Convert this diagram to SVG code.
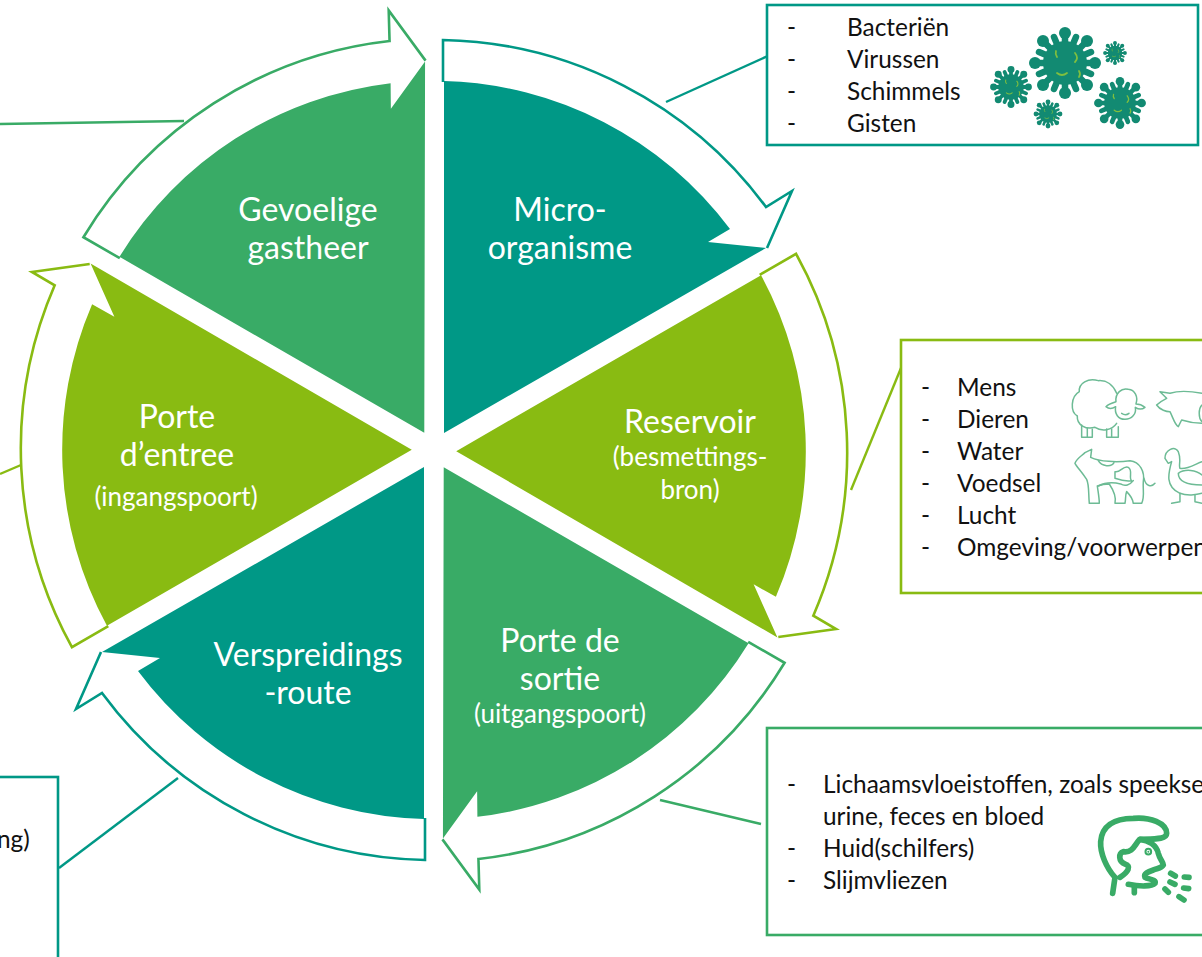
<svg xmlns="http://www.w3.org/2000/svg" width="1202" height="957" viewBox="0 0 1202 957">
<style>
text{font-family:Lato,"Open Sans","Liberation Sans",sans-serif}
.t{fill:#fff;font-size:32px;text-anchor:middle}
.s{fill:#fff;font-size:26px;text-anchor:middle}
.b{fill:#111;font-size:24.4px}
.out{fill:none;stroke-width:2.6;stroke-linejoin:miter}
.outT{stroke:#009886}.outG{stroke:#39ab66}.outL{stroke:#89bb12}
.fT{fill:#009886}.fG{fill:#39ab66}.fL{fill:#89bb12}
.box{fill:#fff;stroke-width:2.6}
.con{fill:none;stroke-width:2.4}
.ani{fill:none;stroke:#6dbb95;stroke-width:4.5;stroke-linejoin:round;stroke-linecap:round}
.head{fill:none;stroke:#39ab66;stroke-width:17;stroke-linejoin:round;stroke-linecap:round}
</style>
<defs>
<path id="outline" d="M443,82 L443,40 A411,411 0 0 1 766,207 L792,191 L767,248"/>
<path id="outline2" d="M443,82 L443,40 A411,411 0 0 1 765,206 L788,193 L766,247"/>
<path id="wedge" d="M444,433 L444,81 A369,369 0 0 1 730,229 L708,242 L766,248 Z"/>
<g id="virus">
<g stroke="#128a72" stroke-width="6.5" stroke-linecap="round">
<path d="M0,0L0,-30M0,0L0,30M0,0L30,0M0,0L-30,0M0,0L22,-22M0,0L-22,22M0,0L22,22M0,0L-22,-22M0,0L11,-26M0,0L-11,26M0,0L26,11M0,0L-26,-11M0,0L-11,-26M0,0L11,26M0,0L26,-11M0,0L-26,11"/>
</g>
<g fill="#128a72">
<circle r="22"/><circle cy="-30" r="6"/><circle cy="30" r="6"/><circle cx="30" r="6"/><circle cx="-30" r="6"/><circle cx="22" cy="-22" r="6"/><circle cx="-22" cy="22" r="6"/><circle cx="22" cy="22" r="6"/><circle cx="-22" cy="-22" r="6"/>
</g>
<g fill="none" stroke="#7fbf3f" stroke-width="1.8" stroke-linecap="round"><path d="M10,-10q4,5 0,9M-8,10q5,4 10,0M-9,-12q-1,3 1,6M14,8q2,3 0,6"/></g>
</g>
</defs>

<g id="connectors">
<line class="con outT" x1="666" y1="102" x2="770" y2="55"/>
<line class="con outL" x1="851" y1="490" x2="901" y2="368"/>
<line class="con outG" x1="660" y1="800" x2="761" y2="824"/>
<line class="con outT" x1="59" y1="868" x2="178" y2="778"/>
<line class="con outL" x1="0" y1="474" x2="21" y2="465"/>
<line class="con outG" x1="0" y1="124" x2="184" y2="121"/>
</g>

<g id="node-micro">
<use href="#outline" class="out outT"/>
<use href="#wedge" class="fT"/>
<text class="t" x="560" y="221">Micro-</text>
<text class="t" x="560" y="259">organisme</text>
</g>
<g id="node-reservoir">
<g transform="translate(2.5,1) rotate(60 434 450)">
<use href="#outline2" class="out outL"/>
<use href="#wedge" class="fL"/>
</g>
<text class="t" x="690" y="433">Reservoir</text>
<text class="s" x="690" y="466">(besmettings-</text>
<text class="s" x="690" y="499">bron)</text>
</g>
<g id="node-sortie">
<use href="#outline" class="out outG" transform="rotate(120 434 450)"/>
<use href="#wedge" class="fG" transform="rotate(120 434 450)"/>
<text class="t" x="560" y="652">Porte de</text>
<text class="t" x="560" y="690">sortie</text>
<text class="s" x="560" y="723">(uitgangspoort)</text>
</g>
<g id="node-route">
<use href="#outline" class="out outT" transform="rotate(180 434 450)"/>
<use href="#wedge" class="fT" transform="rotate(180 434 450)"/>
<text class="t" x="308" y="666">Verspreidings</text>
<text class="t" x="308" y="704">-route</text>
</g>
<g id="node-entree">
<g transform="translate(-2.5,0) rotate(240 434 450)">
<use href="#outline2" class="out outL"/>
<use href="#wedge" class="fL"/>
</g>
<text class="t" x="177" y="428">Porte</text>
<text class="t" x="177" y="466">d’entree</text>
<text class="s" x="176" y="506">(ingangspoort)</text>
</g>
<g id="node-gastheer">
<use href="#outline" class="out outG" transform="rotate(300 434 450)"/>
<use href="#wedge" class="fG" transform="rotate(300 434 450)"/>
<text class="t" x="308" y="221">Gevoelige</text>
<text class="t" x="308" y="259">gastheer</text>
</g>

<g id="box-micro">
<rect class="box outT" x="767" y="5" width="431" height="140"/>
<text class="b" x="787" y="36">-</text><text class="b" x="847" y="36">Bacteriën</text>
<text class="b" x="787" y="68">-</text><text class="b" x="847" y="68">Virussen</text>
<text class="b" x="787" y="100">-</text><text class="b" x="847" y="100">Schimmels</text>
<text class="b" x="787" y="132">-</text><text class="b" x="847" y="132">Gisten</text>
<use href="#virus" transform="translate(1065,63)"/>
<use href="#virus" transform="translate(1011,87) scale(.58)"/>
<use href="#virus" transform="translate(1115,53) scale(.33)"/>
<use href="#virus" transform="translate(1120,103) scale(.72)"/>
<use href="#virus" transform="translate(1048,114) scale(.4)"/>
</g>

<g id="box-reservoir">
<rect class="box outL" x="901" y="340" width="320" height="253"/>
<text class="b" x="921" y="396">-</text><text class="b" x="957" y="396">Mens</text>
<text class="b" x="921" y="428">-</text><text class="b" x="957" y="428">Dieren</text>
<text class="b" x="921" y="460">-</text><text class="b" x="957" y="460">Water</text>
<text class="b" x="921" y="492">-</text><text class="b" x="957" y="492">Voedsel</text>
<text class="b" x="921" y="524">-</text><text class="b" x="957" y="524">Lucht</text>
<text class="b" x="921" y="556">-</text><text class="b" x="957" y="556">Omgeving/voorwerpen</text>
<g transform="translate(850,330) scale(.3333)" class="ani">
<path d="M800,190C790,165 770,150 745,152C715,142 685,160 688,185C662,200 660,245 682,258C680,285 708,300 735,292C755,305 785,302 800,280"/>
<path d="M798,215C795,190 815,172 835,178C855,180 865,200 858,222C870,222 880,228 885,232C875,240 865,238 856,232C860,252 845,268 825,268C805,268 793,252 797,230C785,238 775,236 768,230C775,222 788,218 798,215Z"/>
<path d="M815,250q12,8 22,0"/>
<path d="M695,285L695,322L712,322L712,295M712,322L727,322L727,298M770,297L770,322L785,322L785,297M785,322L805,322L805,290"/>
<path d="M920,225C930,215 940,210 950,205L930,185L960,190C990,180 1030,185 1056,190M920,225C930,240 950,245 960,245C970,265 975,285 985,290L995,270C1020,278 1040,280 1056,280"/>
<path d="M1056,225C1045,235 1045,265 1056,275"/>
<path d="M705,368L725,358L722,382C750,395 800,398 840,392C870,395 885,425 880,455C878,480 885,500 875,520L850,520C848,505 840,495 830,485C825,497 828,510 825,520L795,520C800,500 790,480 778,462C765,462 750,465 742,468C745,490 748,505 748,520L718,520C715,490 718,465 710,448C695,425 680,410 675,400C680,385 695,378 705,368Z"/>
<path d="M745,392C755,410 785,412 792,398M795,425C810,430 820,405 835,412C850,420 835,445 845,452C825,455 810,450 795,445ZM745,468C770,455 795,458 812,462C825,470 840,465 850,452M882,445C888,470 905,472 915,460"/>
<path d="M945,385C945,360 975,345 985,365C995,390 985,405 990,415C1010,420 1040,400 1056,395M945,385L955,400L965,395C955,430 945,470 990,490C1010,498 1040,495 1056,490"/>
<path d="M985,430C1005,415 1040,420 1056,435M985,430C985,455 1010,465 1056,465"/>
<path d="M990,490L990,515L965,520M1035,495L1035,515L1056,520"/>
</g>
</g>

<g id="box-sortie">
<rect class="box outG" x="767" y="728" width="460" height="207"/>
<text class="b" x="787" y="793">-</text><text class="b" x="823" y="793">Lichaamsvloeistoffen, zoals speekse</text>
<text class="b" x="823" y="825">urine, feces en bloed</text>
<text class="b" x="787" y="857">-</text><text class="b" x="823" y="857">Huid(schilfers)</text>
<text class="b" x="787" y="889">-</text><text class="b" x="823" y="889">Slijmvliezen</text>
<g transform="translate(1000,790) scale(.3333)" class="head">
<path d="M338,310L345,262C320,235 300,190 302,155C305,110 340,85 400,85C450,80 500,100 500,130C500,145 480,148 420,148C405,160 400,190 370,185C355,190 355,215 375,222C395,228 385,245 360,262"/>
<path d="M420,148C445,150 470,165 475,190C480,210 490,215 490,225C485,235 470,235 460,240C445,245 430,250 435,262C445,268 470,268 465,280C455,290 420,290 385,283"/>
<path d="M403,290L403,308"/>
<circle cx="445" cy="185" r="3" fill="#39ab66"/>
<path d="M553,261L567,262M512,250L526,258M510,276L525,283M551,294L566,296M495,297L505,307M537,320L552,330"/>
</g>
</g>

<g id="box-route">
<rect class="box outT" x="-60" y="777" width="118" height="240"/>
<text class="b" x="-3" y="848">ng)</text>
</g>
</svg>
